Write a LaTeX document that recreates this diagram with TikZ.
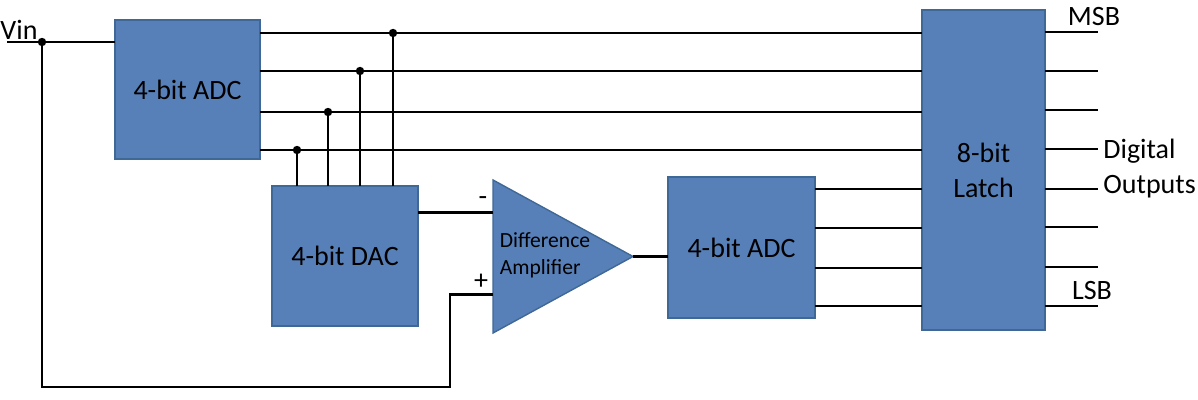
\documentclass[tikz,border=0pt]{standalone}
\usepackage{fontspec}
\setmainfont{Carlito}
\usepackage{tikz}
\usetikzlibrary{positioning,shapes.geometric}
\definecolor{BlockBlue}{HTML}{5880B8}
\definecolor{BlockEdge}{HTML}{3F6896}

\begin{document}
\begin{tikzpicture}[x=0.5pt,y=-0.5pt,line width=1.4pt,
    block/.style={draw=BlockEdge,fill=BlockBlue,line width=0.7pt,inner sep=0pt,outer sep=0pt,
                  align=center,font=\fontsize{14}{17.5}\selectfont},
    dot/.style={circle,fill=black,inner sep=0pt,minimum size=4.2pt},
    lbl/.style={inner sep=0pt,font=\fontsize{14}{17.5}\selectfont}]
  \useasboundingbox (0,0) rectangle (1198,400);

  \node[block] (adcA) [minimum width=72.5pt,minimum height=69.5pt] at (187.5,89.5) {4-bit ADC};
  \node[block] (dac)  [minimum width=73pt,minimum height=70pt,below right=13.5pt and 6pt of adcA] {4-bit DAC};
  \node[block] (amp)  [isosceles triangle,isosceles triangle stretches,minimum width=76.5pt,minimum height=70pt,anchor=west] at (493,256.5) {};
  \node (ampText) [inner sep=0pt,align=left,font=\fontsize{10.8}{13.5}\selectfont] at (545,255) {Difference\\Amplifier};
  \node[block] (adcB) [minimum width=73.5pt,minimum height=70.5pt,right=17.5pt of amp,yshift=4.5pt] {4-bit ADC};
  \node[block] (latch) [minimum width=61.5pt,minimum height=160pt] at (983.5,170) {8-bit\\Latch};

  % input and feedback
  \coordinate (vin) at (7,42);
  \coordinate (fbTurn) at (450,387);
  \coordinate (ampMinus) at ([yshift=22pt]amp.west);
  \coordinate (ampPlus) at ([yshift=-19pt]amp.west);
  \node[lbl] (vinLabel) at (19,30) {Vin};
  \draw (vin) -- (adcA.west |- vin);
  \node[dot] (vinDot) at (42,42) {};
  \draw (vinDot.center) |- (fbTurn) |- (ampPlus);
  \draw (dac.east |- ampMinus) -- (ampMinus);
  \node[lbl] (minusSign) at (483,201) {-};
  \node[lbl] (plusSign) at (481,282) {+};
  \draw (amp.east) -- (adcB.west |- amp.east);

  % upper 4 bits, tapped into the DAC
  \foreach \n/\x/\y in {1/393/33,2/360/71,3/328/112,4/297/150} {
    \coordinate (tap\n) at (\x,\y);
    \draw (adcA.east |- tap\n) -- (latch.west |- tap\n);
    \draw (tap\n) -- (tap\n |- dac.north);
    \node[dot] (tapDot\n) at (tap\n) {};
  }

  % lower 4 bits
  \foreach \n/\y in {1/189,2/228,3/268,4/306} {
    \coordinate (low\n) at (870,\y);
    \draw (adcB.east |- low\n) -- (latch.west |- low\n);
  }

  % latch outputs
  \foreach \n/\y in {1/32,2/71,3/110,4/149,5/189,6/227,7/267,8/306} {
    \coordinate (out\n) at (1098,\y);
    \draw (latch.east |- out\n) -- (out\n);
  }
  \node[lbl] (msb) at (1094,17) {MSB};
  \node[lbl] (lsb) at (1092,291) {LSB};
  \node[lbl,align=left,anchor=west] (digOut) at (1102,169) {Digital\\Outputs};
\end{tikzpicture}
\end{document}
